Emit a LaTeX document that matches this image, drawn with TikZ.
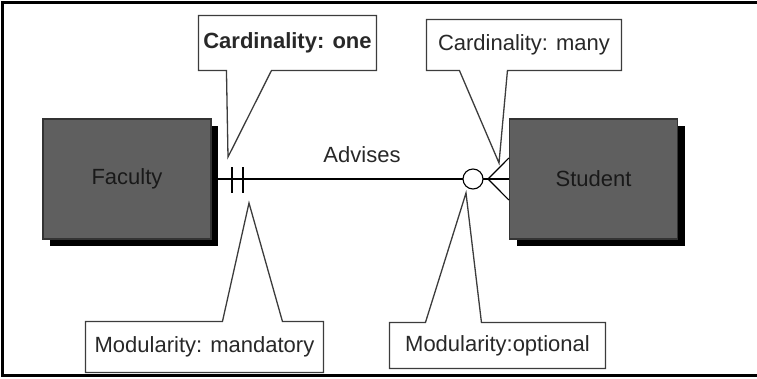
\documentclass[tikz,border=0pt]{standalone}
\usepackage{fontspec}
\setmainfont{Liberation Sans}
\usetikzlibrary{positioning,shadows}
\definecolor{entfill}{RGB}{95,95,95}
\definecolor{rimgray}{RGB}{60,60,60}
\definecolor{inkgray}{RGB}{40,40,40}
\pgfdeclarelayer{back}
\pgfsetlayers{back,main}

\begin{document}
\begin{tikzpicture}[x=1pt,y=-1pt,line width=1.1pt,
   font=\fontsize{22}{26}\selectfont,text=inkgray,
   entity/.style={draw=black!80,fill=entfill,text=black!90,minimum width=168pt,minimum height=120pt,
     inner sep=0pt,drop shadow={shadow xshift=7pt,shadow yshift=-7pt,fill=black,opacity=1}},
   note/.style={inner sep=0pt,minimum height=50pt},
   balloon/.style={draw=rimgray,line width=1.3pt,fill=white}]
   \useasboundingbox (0,0) rectangle (757,378);
   % frame
   \draw[line width=2.5pt] (760,2.5) -- (2.5,2.5) -- (2.5,375.5) -- (760,375.5);

   \node[entity] (faculty) at (127,179) {Faculty};
   \node[entity] (student) at (593.5,179) {Student};
   \node (advises) at (362,155) {Advises};

   % relationship line, one end mandatory, other end optional many
   \coordinate (foot) at (488,179);
   \draw (faculty.east) -- (student.west);
   \draw (232,167) -- (232,193) (243,167) -- (243,193);
   \draw (foot) -- (student.west |- 0,158) (foot) -- (student.west |- 0,200);
   \node[circle,draw,fill=white,minimum size=20pt,inner sep=0pt] (opt) at (473,179) {};

   % callouts
   \node[note,minimum width=177pt,minimum height=54pt] (cone) at (287.5,43) {\bfseries Cardinality: one};
   \node[note,minimum width=194pt] (cmany) at (524,45) {Cardinality: many};
   \node[note,minimum width=237pt] (mmand) at (204.5,347) {Modularity: mandatory};
   \node[note,minimum width=215pt,minimum height=45pt] (mopt) at (497.5,345.5) {Modularity:optional};
   \coordinate (tone) at (228,157);
   \coordinate (tmany) at (499,163);
   \coordinate (tmand) at (249,203);
   \coordinate (topt) at (466,193);

   \begin{pgfonlayer}{back}
   \draw[balloon] (cone.south west) -- (cone.north west) -- (cone.north east) -- (cone.south east)
     -- ([xshift=73pt]cone.south west) -- (tone) -- ([xshift=28pt]cone.south west) -- cycle;
   \draw[balloon] (cmany.south west) -- (cmany.north west) -- (cmany.north east) -- (cmany.south east)
     -- ([xshift=81pt]cmany.south west) -- (tmany) -- ([xshift=33pt]cmany.south west) -- cycle;
   \draw[balloon] (mmand.north west) -- ([xshift=137pt]mmand.north west) -- (tmand)
     -- ([xshift=197pt]mmand.north west) -- (mmand.north east) -- (mmand.south east) -- (mmand.south west) -- cycle;
   \draw[balloon] (mopt.north west) -- ([xshift=36pt]mopt.north west) -- (topt)
     -- ([xshift=92pt]mopt.north west) -- (mopt.north east) -- (mopt.south east) -- (mopt.south west) -- cycle;
   \end{pgfonlayer}
\end{tikzpicture}
\end{document}
